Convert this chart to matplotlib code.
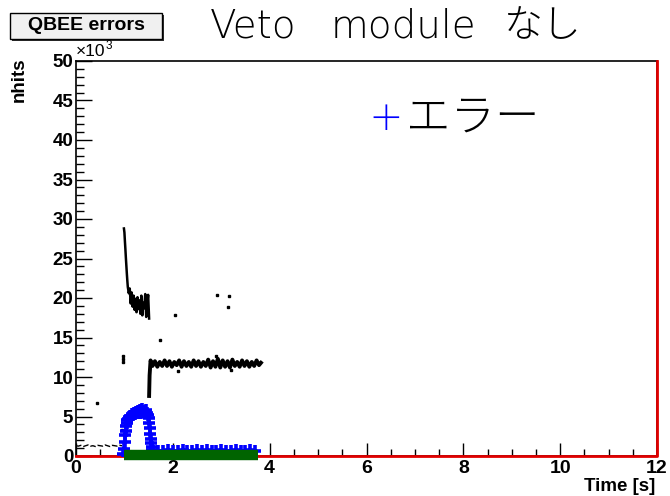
import matplotlib
matplotlib.use("Agg")
import matplotlib.pyplot as plt
from matplotlib.patches import Rectangle

# ---- data: QBEE error monitor, no veto module ----
# total hits before the run starts
pre_t = [0.00, 0.05, 0.10, 0.15, 0.20, 0.25, 0.30, 0.35, 0.40, 0.45,
         0.50, 0.55, 0.60, 0.65, 0.70, 0.75, 0.80, 0.85, 0.90, 0.95]
pre_v = [1300, 1250, 1350, 1200, 1300, 1400, 1250, 1300, 1200, 1350,
         1300, 1250, 1400, 1300, 1200, 1350, 1300, 1250, 1350, 1300]

# total hits: fast decay after start
decay_t = [0.99, 1.00, 1.01, 1.02, 1.03, 1.04, 1.05, 1.06, 1.07,
           1.09, 1.11, 1.13, 1.15, 1.17, 1.19, 1.21, 1.23, 1.25, 1.27,
           1.29, 1.31, 1.33, 1.35, 1.37, 1.39, 1.41, 1.43, 1.45, 1.47,
           1.49, 1.51]
decay_v = [28800, 28300, 27200, 26200, 25100, 24100, 23100, 22200, 21400,
           20600, 21200, 19300, 20700, 18900, 20300, 18500, 19900, 18200,
           20100, 18600, 19700, 18000, 20300, 17800, 19400, 18700, 20500,
           17600, 19200, 20400, 17400]

# total hits: step and flat plateau
plat_t = [1.51, 1.52, 1.54, 1.58, 1.63, 1.68, 1.73, 1.78, 1.83, 1.88,
          1.93, 1.98, 2.03, 2.08, 2.13, 2.18, 2.23, 2.28, 2.33, 2.38,
          2.43, 2.48, 2.53, 2.58, 2.63, 2.68, 2.73, 2.78, 2.83, 2.88,
          2.93, 2.98, 3.03, 3.08, 3.13, 3.18, 3.23, 3.28, 3.33, 3.38,
          3.43, 3.48, 3.53, 3.58, 3.63, 3.68, 3.73, 3.78, 3.82]
plat_v = [7600, 10200, 12100, 11400, 12000, 11300, 11900, 11400, 12100, 11400,
          12000, 11300, 11900, 11500, 12100, 11300, 12000, 11400, 11900, 11300,
          12100, 11400, 12000, 11300, 11900, 11400, 12200, 11200, 12000, 11300,
          12300, 11200, 12100, 11300, 12000, 11200, 12200, 11400, 11900, 11300,
          12100, 11400, 12000, 11300, 11900, 11400, 12100, 11500, 11800]

# isolated total-hit readings
dot_t = [0.44, 0.95, 0.97, 0.97, 0.98, 1.74, 2.05, 2.10, 2.91, 2.90, 3.14, 3.16, 3.20]
dot_v = [6700, 3300, 11900, 12300, 12600, 14700, 17800, 10800, 20400, 12700, 18900, 20250, 10900]

# error counts
err_t = [0.98, 1.00, 1.01, 1.02, 1.03, 1.04, 1.05, 1.06, 1.08, 1.10,
         1.12, 1.14, 1.16, 1.18, 1.20, 1.22, 1.24, 1.26, 1.28, 1.30,
         1.32, 1.34, 1.36, 1.38, 1.40, 1.42, 1.44, 1.46, 1.48, 1.50,
         1.51, 1.52, 1.53, 1.54, 1.55, 1.56, 1.58, 1.60, 1.70, 1.80,
         1.90, 2.00, 2.10, 2.20, 2.30, 2.40, 2.50, 2.60, 2.70, 2.80,
         2.90, 3.00, 3.10, 3.20, 3.30, 3.40, 3.50, 3.60, 3.70]
err_v = [200, 900, 1800, 2600, 3200, 3800, 4200, 4500, 4700, 4900,
         5100, 5000, 5300, 5200, 5500, 5300, 5600, 5400, 5700, 5500,
         5800, 5400, 5900, 5600, 5700, 5400, 5800, 5500, 5200, 4800,
         4200, 3500, 2800, 2200, 1600, 1100, 700, 600, 650, 600,
         700, 650, 600, 700, 650, 600, 700, 650, 700, 600,
         650, 700, 600, 650, 700, 650, 600, 700, 650]

# run window flag
run_t = [1.00, 3.75]
run_v = [150, 150]

# baseline reference
ref_t = [0, 12, 12]
ref_v = [0, 0, 50000]

x_ticks = [0, 2, 4, 6, 8, 10, 12]
x_labels = ["0", "2", "4", "6", "8", "10", "12"]
y_ticks = [0, 5000, 10000, 15000, 20000, 25000, 30000, 35000, 40000, 45000, 50000]
y_labels = ["0", "5", "10", "15", "20", "25", "30", "35", "40", "45", "50"]

plt.rcParams["font.family"] = ["Liberation Sans", "DejaVu Sans"]
plt.rcParams["font.weight"] = "bold"
JP = ["Noto Sans CJK JP", "DejaVu Sans"]
LATIN_JP = ["DejaVu Sans", "Noto Sans CJK JP"]

W, H = 670, 496
fig = plt.figure(figsize=(W / 100, H / 100), dpi=100)
ax = fig.add_axes([76 / W, 1 - 456 / H, 581 / W, 395 / H])

ax.plot(ref_t, ref_v, color="#e00000", lw=2, zorder=3, clip_on=False)
ax.plot(pre_t, pre_v, color="black", lw=1, ls=(0, (4, 1.5)), zorder=3)
ax.plot(decay_t, decay_v, color="black", lw=1.8, zorder=3)
ax.plot(plat_t, plat_v, color="black", lw=2.8, zorder=3)
ax.plot(dot_t, dot_v, ls="none", marker="s", ms=1.6, color="black", zorder=3)
ax.plot(err_t, err_v, ls="none", marker="+", ms=9, mew=2.6, color="#0000ff", zorder=4)
ax.plot(run_t, run_v, color="#006400", lw=7.5, solid_capstyle="butt", zorder=5, clip_on=False)

ax.set_xlim(0, 12)
ax.set_ylim(0, 50000)
ax.set_xticks(x_ticks, x_labels)
ax.set_yticks(y_ticks, y_labels)
ax.set_xticks([v / 2 for v in range(25)], minor=True)
ax.set_yticks(list(range(0, 50001, 1000)), minor=True)
ax.tick_params(axis="x", which="major", direction="in", length=9.5, width=1, labelsize=14, pad=3)
ax.tick_params(axis="x", which="minor", direction="in", length=5, width=1)
ax.tick_params(axis="y", which="major", direction="in", length=11.5, width=1, labelsize=13.5, pad=2)
ax.tick_params(axis="y", which="minor", direction="in", length=5.5, width=1)
for s in ax.spines.values():
    s.set_linewidth(1.2)

# axis titles and exponent
fig.text(19 / W, 1 - 57 / H, "nhits", rotation=90, ha="center", va="top", fontsize=13.5)
fig.text(76 / W, 1 - 59 / H, "×10", ha="left", va="bottom", fontsize=12.5, fontweight="normal")
fig.text(106 / W, 1 - 52 / H, "3", ha="left", va="bottom", fontsize=8.5, fontweight="normal")
fig.text(655 / W, 1 - 495 / H, "Time [s]", ha="right", va="bottom", fontsize=13.5)

# histogram name box with shadow
fig.patches.append(Rectangle((12 / W, 1 - 41 / H), 152 / W, 26 / H, transform=fig.transFigure,
                             fc="#303030", ec="none", figure=fig))
fig.patches.append(Rectangle((10 / W, 1 - 39 / H), 152 / W, 26 / H, transform=fig.transFigure,
                             fc="#f0f0f0", ec="black", lw=1, figure=fig))
fig.text(86 / W, 1 - 26 / H, "QBEE errors", ha="center", va="center", fontsize=14)

# slide heading, spaced word by word
for word, xc in [("Veto", 253), ("module", 403), ("なし", 543)]:
    fig.text(xc / W, 1 - 37 / H, word, ha="center", va="baseline",
             fontsize=28, family=LATIN_JP, fontweight="light")

fig.text(386 / W, 1 - 120 / H, "＋", ha="center", va="center", color="#0000ff",
         fontsize=25, family=JP, fontweight="light")
fig.text(406 / W, 1 - 118 / H, "エラー", ha="left", va="center", color="black",
         fontsize=32, family=JP, fontweight="light")

fig.savefig("out.png", dpi=100)
